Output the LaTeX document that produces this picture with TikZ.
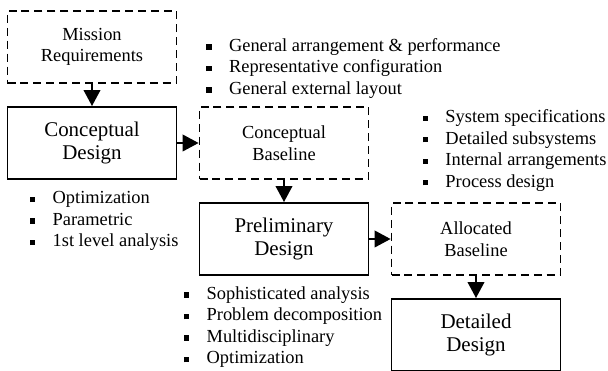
\documentclass[tikz,border=0pt]{standalone}
\usepackage{fontspec}
\setmainfont{Liberation Serif}
\usetikzlibrary{arrows.meta}
\newcommand{\sqb}{\rule[1.2pt]{3.8pt}{3.8pt}}
\tikzset{
   designbox/.style={draw, line width=1.4pt, minimum width=4.225cm, minimum height=1.8cm,
      align=center, font=\fontsize{14.9}{16.5}\selectfont},
   basebox/.style={draw, line width=1.3pt, dash pattern=on 5.7pt off 3.5pt,
      minimum width=4.225cm, minimum height=1.8cm, align=center,
      font=\fontsize{13.1}{15.4}\selectfont},
   items/.style={anchor=west, inner sep=0pt, font=\fontsize{13.1}{15.3}\selectfont},
   flow/.style={-{Triangle[length=0.4cm,width=0.42cm]}, line width=1pt}
}
\begin{document}
\begin{tikzpicture}
   \useasboundingbox (0,0) rectangle (15.2,9.275);
   \node[basebox]   (mission) at ( 2.30,8.10) {Mission\\Requirements};
   \node[designbox] (concept) at ( 2.30,5.70) {Conceptual\\Design};
   \node[basebox]   (cbase)   at ( 7.10,5.70) {Conceptual\\Baseline};
   \node[designbox] (prelim)  at ( 7.10,3.30) {Preliminary\\Design};
   \node[basebox]   (abase)   at (11.90,3.30) {Allocated\\Baseline};
   \node[designbox] (detail)  at (11.90,0.90) {Detailed\\Design};
   \draw[flow] (mission) -- (concept);
   \draw[flow] (concept) -- (cbase);
   \draw[flow] (cbase)   -- (prelim);
   \draw[flow] (prelim)  -- (abase);
   \draw[flow] (abase)   -- (detail);
   \node[items] (cbaselist) at ( 5.15,7.56) {\begin{tabular}{@{}l@{\hspace{12.4pt}}l@{}}
      \sqb & General arrangement \& performance\\
      \sqb & Representative configuration\\
      \sqb & General external layout
   \end{tabular}};
   \node[items] (conceptlist) at ( 0.74,3.75) {\begin{tabular}{@{}l@{\hspace{12.4pt}}l@{}}
      \sqb & Optimization\\
      \sqb & Parametric\\
      \sqb & 1st level analysis
   \end{tabular}};
   \node[items] (abaselist) at (10.56,5.51) {\begin{tabular}{@{}l@{\hspace{12.4pt}}l@{}}
      \sqb & System specifications\\
      \sqb & Detailed subsystems\\
      \sqb & Internal arrangements\\
      \sqb & Process design
   \end{tabular}};
   \node[items] (prelimlist) at ( 4.59,1.09) {\begin{tabular}{@{}l@{\hspace{12.4pt}}l@{}}
      \sqb & Sophisticated analysis\\
      \sqb & Problem decomposition\\
      \sqb & Multidisciplinary\\
      \sqb & Optimization
   \end{tabular}};
\end{tikzpicture}
\end{document}
